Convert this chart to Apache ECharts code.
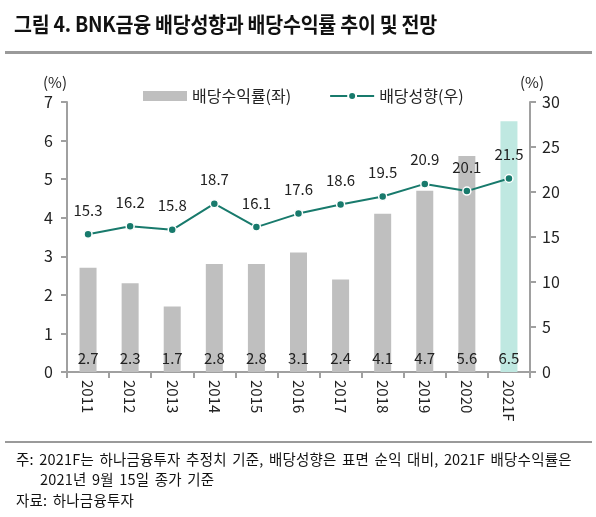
<!DOCTYPE html>
<html><head><meta charset="utf-8">
<script src="https://cdn.jsdelivr.net/npm/echarts@6/dist/echarts.min.js"></script>
<style>
html,body{margin:0;padding:0;background:#fff;}
#wrap{position:relative;width:596px;height:517px;font-family:"Noto Sans CJK KR","Noto Sans",sans-serif;}
#title{position:absolute;left:14px;top:8px;font-size:21px;font-weight:bold;color:#111;letter-spacing:-0.3px;transform:scaleX(0.93);transform-origin:left;white-space:nowrap;}
#rule1{position:absolute;left:5px;width:587px;top:51px;height:3px;background:#9a9a9a;}
#rule2{position:absolute;left:5px;width:587px;top:441px;height:2px;background:#9a9a9a;}
#chart{position:absolute;left:0;top:0;width:596px;height:517px;}
.note{position:absolute;font-size:14.5px;color:#111;white-space:nowrap;letter-spacing:0.2px;word-spacing:2px;}
</style></head>
<body><div id="wrap">
<div id="chart"></div>
<div id="title">그림 4. BNK금융 배당성향과 배당수익률 추이 및 전망</div>
<div id="rule1"></div>
<div id="rule2"></div>
<div class="note" style="left:16px;top:448px;">주: 2021F는 하나금융투자 추정치 기준, 배당성향은 표면 순익 대비, 2021F 배당수익률은</div>
<div class="note" style="left:40px;top:468px;">2021년 9월 15일 종가 기준</div>
<div class="note" style="left:16px;top:489px;">자료: 하나금융투자</div>
</div>
<script>
const categories = ['2011','2012','2013','2014','2015','2016','2017','2018','2019','2020','2021F'];
const dividendYield = [2.7,2.3,1.7,2.8,2.8,3.1,2.4,4.1,4.7,5.6,6.5];
const payoutRatio = [15.3,16.2,15.8,18.7,16.1,17.6,18.6,19.5,20.9,20.1,21.5];
const leftTicks = [0,1,2,3,4,5,6,7];
const rightTicks = [0,5,10,15,20,25,30];

const font = '"Noto Sans CJK KR","Noto Sans",sans-serif';
const axisColor = '#a0a0a0';
const chart = echarts.init(document.getElementById('chart'));
chart.setOption({
  animation:false,
  textStyle:{fontFamily:font},
  legend:{
    top:83, left:138, itemGap:38, itemWidth:44, itemHeight:10,
    textStyle:{fontSize:16,color:'#222',fontFamily:font},
    data:[
      {name:'배당수익률(좌)', icon:'rect', itemStyle:{color:'#bfbfbf'}},
      {name:'배당성향(우)'}
    ]
  },
  grid:{left:67,right:66,top:102,bottom:145},
  xAxis:{
    type:'category', data:categories,
    axisLine:{lineStyle:{color:axisColor,width:2}},
    axisTick:{show:true,length:6,lineStyle:{color:axisColor,width:2}},
    axisLabel:{rotate:-90,fontSize:15,color:'#222',margin:8,fontFamily:font}
  },
  yAxis:[
    {type:'value',min:0,max:7,interval:1,name:'(%)',nameLocation:'end',nameGap:12,
     nameTextStyle:{fontSize:15,color:'#222',align:'right',padding:[0,0,0,0]},
     splitLine:{show:false},
     axisLine:{show:true,lineStyle:{color:axisColor,width:2}},
     axisTick:{show:true,length:6,lineStyle:{color:axisColor,width:2}},
     axisLabel:{fontSize:16,color:'#222',margin:14,fontFamily:font}},
    {type:'value',min:0,max:30,interval:5,name:'(%)',nameLocation:'end',nameGap:12,
     nameTextStyle:{fontSize:15,color:'#222',align:'left',padding:[0,0,0,-10]},
     splitLine:{show:false},
     axisLine:{show:true,lineStyle:{color:axisColor,width:2}},
     axisTick:{show:true,length:6,lineStyle:{color:axisColor,width:2}},
     axisLabel:{fontSize:16,color:'#222',margin:12,fontFamily:font}}
  ],
  series:[
    {name:'배당수익률(좌)',type:'bar',yAxisIndex:0,barWidth:17,
     data:dividendYield.map((v,i)=>({value:v,itemStyle:{color:categories[i]==='2021F'?'#bfe8e1':'#bfbfbf'}})),
     itemStyle:{color:'#bfbfbf'},
     label:{show:true,position:'insideBottom',distance:6,fontSize:15,color:'#222',fontFamily:font}},
    {name:'배당성향(우)',type:'line',yAxisIndex:1,data:payoutRatio,
     color:'#187a6c',
     lineStyle:{color:'#187a6c',width:2},
     symbol:'circle',symbolSize:8,
     itemStyle:{color:'#187a6c',borderColor:'#fff',borderWidth:1.5},
     label:{show:true,position:'top',distance:12,fontSize:15,color:'#222',fontFamily:font}}
  ]
});
</script>
</body></html>
